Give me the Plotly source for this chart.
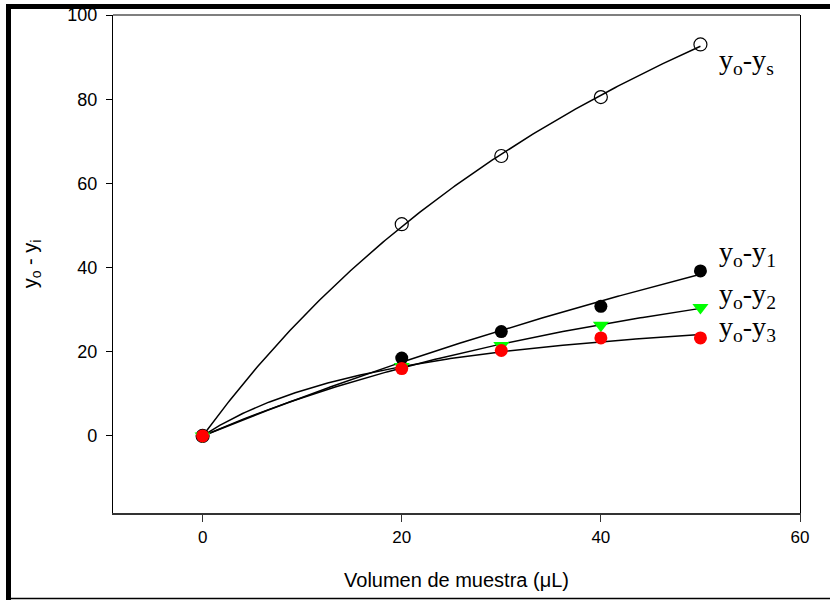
import numpy as np
import plotly.graph_objects as go

# ---- data ----
volumen = [0, 20, 30, 40, 50]
y_s = [0, 50.3, 66.5, 80.5, 93.0]
y_1 = [0, 18.5, 24.8, 30.8, 39.2]
y_2 = [0, 16.5, 21.5, 26.3, 30.5]
y_3 = [0, 16.0, 20.3, 23.3, 23.3]
labels = ["y<sub>o</sub>-y<sub>s</sub>", "y<sub>o</sub>-y<sub>1</sub>",
          "y<sub>o</sub>-y<sub>2</sub>", "y<sub>o</sub>-y<sub>3</sub>"]
label_y = [89.0, 43.4, 33.4, 25.5]

x = np.array(volumen, dtype=float)


def hyperbola_fit(xs, ys):
    """Least-squares fit of y = a*x/(b+x) (grid search on b)."""
    ys = np.asarray(ys, dtype=float)
    best = None
    for b in np.linspace(0.5, 3000, 30000):
        g = xs / (b + xs)
        a = (g @ ys) / (g @ g)
        err = np.sum((ys - a * g) ** 2)
        if best is None or err < best[0]:
            best = (err, a, b)
    return best[1], best[2]


xf = np.linspace(0, 50, 200)

fig = go.Figure()

series = [
    (y_s, dict(symbol="circle-open", size=13, color="black", line=dict(width=1.2, color="black"))),
    (y_1, dict(symbol="circle", size=13, color="black")),
    (y_2, dict(symbol="triangle-down", size=14, color="#00ff00")),
    (y_3, dict(symbol="circle", size=13, color="#ff0000")),
]

# fit curves
for ys, _ in series:
    a, b = hyperbola_fit(x, ys)
    fig.add_trace(go.Scatter(x=xf, y=a * xf / (b + xf), mode="lines",
                             line=dict(color="black", width=1.5),
                             showlegend=False, hoverinfo="skip"))

# markers
for ys, mk in series:
    fig.add_trace(go.Scatter(x=volumen, y=ys, mode="markers", marker=mk,
                             showlegend=False))

for lab, ly in zip(labels, label_y):
    fig.add_annotation(x=51.8, y=ly, text=lab, showarrow=False, xanchor="left",
                       yanchor="middle", borderpad=0,
                       font=dict(family="Liberation Serif", size=28, color="black"))

L, R, T, B = 113, 30, 15, 87
W, H = 830, 600
pw, ph = W - L - R, H - T - B


def px(v):
    return (v - L) / pw


def py(v):
    return (H - B - v) / ph


shapes = [
    # top line of plot box
    dict(type="line", xref="paper", yref="paper", x0=0, x1=1, y0=1, y1=1,
         line=dict(color="black", width=1.2)),
    # outer frame
    dict(type="line", xref="paper", yref="paper", x0=px(8.5), x1=px(8.5), y0=py(4), y1=py(600),
         line=dict(color="black", width=5)),
    dict(type="line", xref="paper", yref="paper", x0=px(6), x1=px(830), y0=py(6.5), y1=py(6.5),
         line=dict(color="black", width=5)),
    dict(type="line", xref="paper", yref="paper", x0=px(6), x1=px(830), y0=py(598.5), y1=py(598.5),
         line=dict(color="black", width=1.5)),
]

fig.update_layout(
    width=W, height=H,
    margin=dict(l=L, r=R, t=T, b=B, pad=0, autoexpand=False),
    paper_bgcolor="white", plot_bgcolor="white",
    font=dict(family="Liberation Sans, Arial", color="black"),
    shapes=shapes,
    xaxis=dict(range=[-9, 60], tickvals=[0, 20, 40, 60], showgrid=False, zeroline=False,
               showline=True, linecolor="#333333", linewidth=2.2, ticks="outside",
               ticklen=7, tickcolor="#333333", tickwidth=1.2, automargin=False,
               tickfont=dict(size=17),
               title=dict(text="Volumen de muestra (μL)", font=dict(size=20), standoff=27)),
    yaxis=dict(range=[-18.3, 100], tickvals=[0, 20, 40, 60, 80, 100], showgrid=False,
               zeroline=False, showline=True, linecolor="black", linewidth=1.2, mirror=True,
               ticks="outside", ticklen=6, tickcolor="black", tickwidth=1.2, automargin=False,
               tickfont=dict(size=18), ticklabelstandoff=5,
               title=dict(text="y<sub>o</sub> - y<sub>i</sub>", font=dict(size=20), standoff=24)),
)

fig.write_html(
    "out.html",
    config={"displayModeBar": False},
    post_script="document.body.style.margin='0';document.body.style.padding='0';"
                "document.body.style.overflow='hidden';",
)
